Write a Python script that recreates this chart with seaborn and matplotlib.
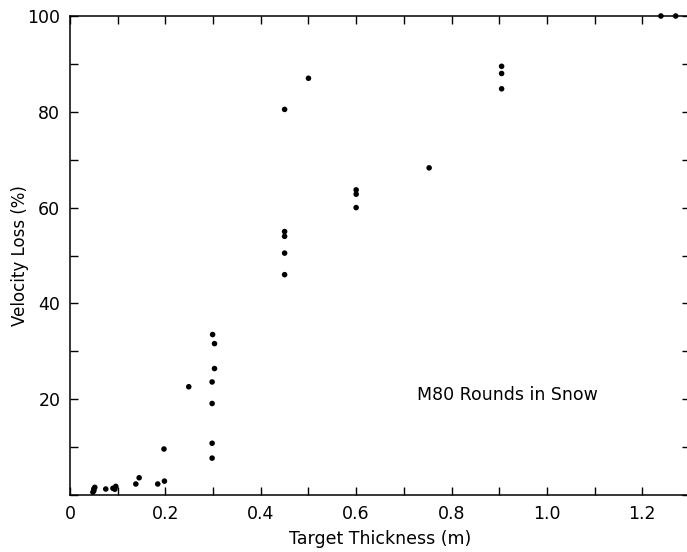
import matplotlib
matplotlib.use("Agg")
import matplotlib.pyplot as plt
import seaborn as sns
import pandas as pd
from matplotlib.ticker import MultipleLocator, FixedLocator, FixedFormatter

# Data
thickness = [0.048, 0.050, 0.050, 0.052, 0.075, 0.090, 0.096, 0.094,
             0.138, 0.145, 0.184, 0.198, 0.197, 0.249,
             0.298, 0.298, 0.298, 0.298, 0.303, 0.303, 0.299,
             0.45, 0.45, 0.45, 0.45, 0.45, 0.50,
             0.60, 0.60, 0.60, 0.753, 0.905, 0.905, 0.905,
             1.239, 1.270]
velocity_loss = [0.6, 0.9, 1.3, 1.6, 1.25, 1.4, 1.8, 1.2,
                 2.3, 3.6, 2.3, 2.9, 9.6, 22.6,
                 7.7, 10.8, 19.1, 23.6, 26.4, 31.6, 33.5,
                 46.0, 50.5, 54.0, 55.0, 80.5, 87.0,
                 60.0, 62.8, 63.7, 68.3, 84.8, 88.0, 89.5,
                 100.0, 100.0]

x_ticks = [0, 0.2, 0.4, 0.6, 0.8, 1.0, 1.2]
x_labels = ["0", "0.2", "0.4", "0.6", "0.8", "1.0", "1.2"]
y_ticks = [20, 40, 60, 80, 100]
y_labels = ["20", "40", "60", "80", "100"]

df = pd.DataFrame({"Target Thickness (m)": thickness,
                   "Velocity Loss (%)": velocity_loss})

sns.set_style("ticks")
plt.rcParams["font.family"] = ["DejaVu Sans"]
plt.rcParams["text.color"] = "black"
plt.rcParams["axes.labelcolor"] = "black"

fig = plt.figure(figsize=(6.87, 5.52), dpi=100)
ax = fig.add_axes([70 / 687, 57 / 552, 620 / 687, 479 / 552])

sns.scatterplot(data=df, x="Target Thickness (m)", y="Velocity Loss (%)",
                ax=ax, color="black", s=16, edgecolor="none", clip_on=False,
                zorder=5)

ax.set_xlim(0, 1.3)
ax.set_ylim(0, 100)

ax.xaxis.set_major_locator(FixedLocator(x_ticks))
ax.xaxis.set_major_formatter(FixedFormatter(x_labels))
ax.xaxis.set_minor_locator(MultipleLocator(0.1))
ax.yaxis.set_major_locator(FixedLocator(y_ticks))
ax.yaxis.set_major_formatter(FixedFormatter(y_labels))
ax.yaxis.set_minor_locator(MultipleLocator(10))

for side in ["top", "right", "left", "bottom"]:
    ax.spines[side].set_visible(True)
    ax.spines[side].set_linewidth(1.1)
    ax.spines[side].set_color("black")

ax.tick_params(which="both", direction="in", length=6, width=1.0,
               top=True, right=True, colors="black", labelcolor="black",
               labelsize=12.5, pad=7)

ax.set_xlabel("Target Thickness (m)", fontsize=12.5, labelpad=5)
ax.set_ylabel("Velocity Loss (%)", fontsize=12)
ax.yaxis.set_label_coords(-41 / 620, 0.5)

ax.text(0.727, 20.8, "M80 Rounds in Snow", fontsize=12.5, va="center",
        ha="left", color="black")

fig.savefig("out.png", dpi=100, facecolor="white")
